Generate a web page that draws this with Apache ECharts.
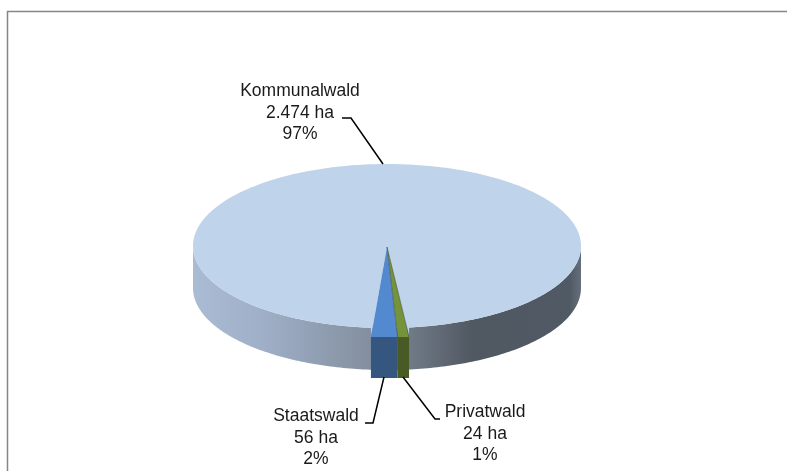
<!DOCTYPE html>
<html>
<head>
<meta charset="utf-8">
<style>
	html, body { margin: 0; padding: 0; background: #fff; }
	#main { width: 787px; height: 471px; }
</style>
<script src="https://cdn.jsdelivr.net/npm/echarts@6/dist/echarts.min.js"></script>
</head>
<body>
<div id="main"></div>
<script>
// Daten
var categories = ["Kommunalwald", "Privatwald", "Staatswald"];
var hectares = [2474, 24, 56];
var hectareLabels = ["2.474 ha", "24 ha", "56 ha"];
var percentLabels = ["97%", "1%", "2%"];

// Geometrie der 3D-Torte
var cx = 387, cy = 246, rx = 194, ry = 82, depth = 42;
var startAngle = 184.75;
var wedgeDrop = 9;
var wedgeDepth = 41;

var topColors = ["#bfd3ea", "#74933a", "#5389cf"];
var frontColors = [null, "#4a5a24", "#34567f"];

// Beschriftung und Führungslinien
var labelPos = [[300, 113], [485, 434], [316, 438]];
var leaderLines = [
	[[342, 118], [351, 118], [383, 164]],
	[[440, 419], [435, 419], [403, 377]],
	[[365, 423], [373, 423], [384, 377]]
];

var total = hectares.reduce(function (a, b) { return a + b; }, 0);

function ellipsePoint(deg, dy) {
	var r = deg * Math.PI / 180;
	return [cx + rx * Math.sin(r), cy - ry * Math.cos(r) + (dy || 0)];
}

function arcPoints(from, to, dy) {
	var pts = [];
	var steps = Math.ceil(Math.abs(to - from));
	for (var i = 0; i <= steps; i++) {
		pts.push(ellipsePoint(from + (to - from) * i / steps, dy));
	}
	return pts;
}

function sliceStart(index) {
	var sum = 0;
	for (var i = 0; i < index; i++) sum += hectares[i];
	return startAngle + sum / total * 360;
}

function renderSlice(params, api) {
	var i = params.dataIndex;
	var from = sliceStart(i);
	var to = from + api.value(0) / total * 360;
	var children = [];
	var bottomY = cy + ry + wedgeDrop;
	var xa = ellipsePoint(from)[0];
	var xb = ellipsePoint(to)[0];
	var apex = [cx, cy + 1];

	if (i === 0) {
		// Mantel der großen Scheibe
		var upper = arcPoints(90, 270, 0);
		var lower = arcPoints(270, 90, depth);
		children.push({
			type: "polygon",
			shape: { points: upper.concat(lower) },
			style: {
				fill: new echarts.graphic.LinearGradient(0, 0, 1, 0, [
					{ offset: 0, color: "#aabbd4" },
					{ offset: 0.18, color: "#9fafc7" },
					{ offset: 0.46, color: "#838f9f" },
					{ offset: 0.6, color: "#68727e" },
					{ offset: 0.72, color: "#505862" },
					{ offset: 0.97, color: "#505a64" },
					{ offset: 1, color: "#646f7b" }
				])
			}
		});
		// Deckfläche läuft an den Kanten des Keils entlang
		children.push({
			type: "polygon",
			shape: { points: arcPoints(from, to, 0).concat([[xb, bottomY], apex, [xa, bottomY]]) },
			style: { fill: topColors[i] }
		});
	} else {
		children.push({
			type: "polygon",
			shape: { points: [apex, [xa, bottomY], [xb, bottomY]] },
			style: { fill: topColors[i] }
		});
		children.push({
			type: "polygon",
			shape: { points: [[xa, bottomY], [xb, bottomY], [xb, bottomY + wedgeDepth], [xa, bottomY + wedgeDepth]] },
			style: { fill: frontColors[i] }
		});
		children.push({
			type: "line",
			shape: { x1: apex[0], y1: apex[1], x2: xa, y2: bottomY },
			style: { stroke: "#3f4a3a", lineWidth: 0.8, opacity: 0.7 }
		});
	}

	children.push({
		type: "polyline",
		shape: { points: leaderLines[i] },
		style: { stroke: "#000", lineWidth: 1.5, fill: null }
	});
	children.push({
		type: "text",
		style: {
			text: categories[i] + "\n" + hectareLabels[i] + "\n" + percentLabels[i],
			x: labelPos[i][0],
			y: labelPos[i][1],
			fill: "#1a1a1a",
			font: "17.5px 'Liberation Sans', Arial, sans-serif",
			lineHeight: 21.5,
			align: "center",
			verticalAlign: "middle"
		}
	});
	return { type: "group", children: children };
}

var chart = echarts.init(document.getElementById("main"), null, { renderer: "canvas" });
chart.setOption({
	animation: false,
	backgroundColor: "#fff",
	graphic: [
		{ type: "polyline", silent: true, shape: { points: [[7.5, 471], [7.5, 11.5], [787, 11.5]] }, style: { stroke: "#868686", lineWidth: 1.5, fill: null } }
	],
	series: [
		{
			type: "custom",
			coordinateSystem: "none",
			silent: true,
			renderItem: renderSlice,
			data: categories.map(function (name, i) {
				return { name: name, value: [hectares[i]] };
			})
		}
	]
});
</script>
</body>
</html>
